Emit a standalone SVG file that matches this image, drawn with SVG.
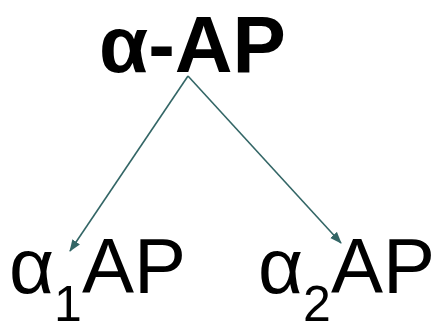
<svg xmlns="http://www.w3.org/2000/svg" width="443" height="323" viewBox="0 0 443 323">
<style>
.t{font-family:"Liberation Sans",Arial,sans-serif;fill:#000}
.c{stroke:#336666;stroke-width:1.6;fill:none;marker-end:url(#ah)}
</style>
<defs>
<marker id="ah" viewBox="0 0 12 10" refX="11" refY="5" markerWidth="12" markerHeight="10" markerUnits="userSpaceOnUse" orient="auto">
<path d="M0,0.5 L12,5 L0,9.5 z" fill="#336666"/>
</marker>
</defs>
<rect width="443" height="323" fill="#fff"/>
<g id="connectors">
<line class="c" x1="188" y1="76" x2="70" y2="251"/>
<line class="c" x1="188" y1="76" x2="341" y2="243"/>
</g>
<g id="node-aAP">
<text class="t" x="99" y="72" font-size="80" font-weight="bold">α-AP</text>
</g>
<g id="node-a1AP">
<text class="t" x="9" y="293" font-size="78">α<tspan font-size="50" dy="28">1</tspan><tspan dy="-28">AP</tspan></text>
</g>
<g id="node-a2AP">
<text class="t" x="258" y="293" font-size="78">α<tspan font-size="50" dy="28">2</tspan><tspan dy="-28">AP</tspan></text>
</g>
</svg>
